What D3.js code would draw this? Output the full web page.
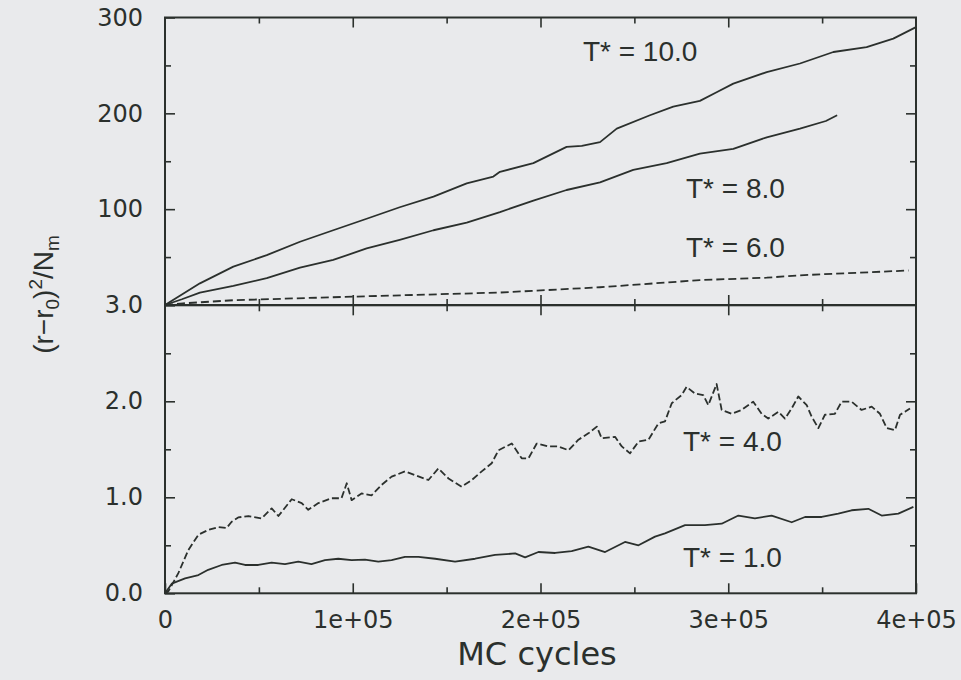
<!DOCTYPE html>
<html>
<head>
<meta charset="utf-8">
<script src="https://cdn.jsdelivr.net/npm/d3@7"></script>
<style>
  html, body { margin: 0; padding: 0; background: #e9eaec; }
  svg { display: block; }
</style>
</head>
<body>
<svg id="chart" width="961" height="680"></svg>
<script>
// ---- data ----
const xTicks = [0, 100000, 200000, 300000, 400000];
const xMinorTicks = [50000, 150000, 250000, 350000];
const topTicks = [100, 200, 300];
const topMinorTicks = [50, 150, 250];
const botTicks = [0, 1, 2, 3];
const botMinorTicks = [0.5, 1.5, 2.5];

const t10 = [[0,0],[9000,11],[18600,22.6],[36400,40],[54200,52],[71900,66],[89600,78],[107400,90],[125000,102],[143000,113],[160700,127],[174900,134],[178400,139],[196200,148],[213900,165],[222000,166],[231700,170],[240600,184],[258300,198],[270700,207],[284900,213],[293800,222],[302700,231],[320500,243],[338200,252],[356000,264],[373700,269],[387900,278],[400000,290]];
const t8 = [[0,0],[9000,6],[18600,13],[36400,20],[54200,28],[71900,39],[89600,47],[107400,59],[125000,68],[143000,78],[160700,86],[178400,97],[196200,109],[213900,120],[231700,128],[249400,141],[267200,148],[284900,158],[302700,163],[320500,175],[338200,184],[352000,192],[358000,198]];
const t6 = [[0,0],[9600,1.7],[36400,5],[100000,8.7],[178400,13],[231700,18.5],[284900,26],[320500,28.5],[338200,31],[396000,36]];
const t4 = [[0,0],[1800,0.02],[7100,0.21],[12400,0.45],[17800,0.61],[23000,0.66],[28400,0.69],[32800,0.68],[35500,0.745],[39000,0.79],[44400,0.805],[51500,0.78],[56800,0.885],[60400,0.805],[67500,0.98],[72800,0.94],[76300,0.87],[81700,0.94],[88800,0.99],[94000,0.99],[96800,1.146],[99400,0.97],[104700,1.04],[110000,1.02],[115400,1.13],[120700,1.215],[127800,1.27],[133200,1.23],[140300,1.18],[145600,1.30],[151000,1.196],[158000,1.11],[163400,1.18],[168700,1.27],[174000,1.354],[177600,1.49],[184700,1.56],[190000,1.406],[193600,1.406],[198000,1.56],[204200,1.53],[209500,1.53],[214900,1.49],[220200,1.60],[225500,1.666],[230000,1.736],[232600,1.614],[239700,1.63],[243300,1.53],[247700,1.458],[252200,1.58],[257500,1.60],[262800,1.77],[266300,1.79],[269900,1.98],[275200,2.065],[277800,2.15],[282300,2.08],[286700,2.065],[289400,1.96],[293800,2.18],[296500,1.91],[301800,1.87],[307100,1.91],[313300,1.996],[317800,1.87],[321300,1.82],[326700,1.89],[330200,1.82],[333800,1.926],[337300,2.05],[341800,1.96],[344400,1.84],[348000,1.72],[351500,1.86],[356800,1.87],[360400,1.996],[365700,1.996],[371000,1.91],[376400,1.944],[380800,1.87],[384400,1.72],[388800,1.70],[391500,1.86],[394100,1.89],[396800,1.926]];
const t1 = [[0,0],[3600,0.10],[10700,0.155],[17800,0.19],[23000,0.245],[30200,0.295],[37300,0.32],[42600,0.295],[49700,0.295],[56800,0.32],[63900,0.305],[71000,0.33],[78000,0.305],[85200,0.345],[92300,0.36],[99400,0.345],[106500,0.35],[113600,0.33],[120700,0.345],[127800,0.38],[135000,0.38],[143900,0.36],[154500,0.33],[165200,0.36],[175800,0.40],[186500,0.415],[191800,0.375],[198900,0.43],[207800,0.42],[216600,0.44],[225500,0.486],[234400,0.43],[245000,0.535],[252200,0.50],[261000,0.59],[266300,0.625],[277000,0.71],[287600,0.71],[296500,0.725],[305400,0.81],[314200,0.78],[323100,0.81],[333800,0.74],[340900,0.795],[349800,0.795],[358600,0.83],[365700,0.865],[374600,0.88],[381700,0.81],[390600,0.83],[398600,0.90]];

const topLabels = ["T* = 10.0", "T* = 8.0", "T* = 6.0"];
const topLabelAt = [[222600, 255], [277500, 111.5], [277500, 50]];
const botLabels = ["T* = 4.0", "T* = 1.0"];
const botLabelAt = [[275900, 1.48], [275900, 0.275]];

// ---- layout ----
const ink = "#2b302d";
const svg = d3.select("#chart");
const x = d3.scaleLinear().domain([0, 400000]).range([165, 916]);
const yTop = d3.scaleLinear().domain([0, 300]).range([305, 17.5]);
const yBot = d3.scaleLinear().domain([0, 3]).range([593.3, 305.3]);

const tickFont = "'DejaVu Sans', sans-serif";
const labFont = "'Liberation Sans', Arial, sans-serif";

function styleAxis(g) {
  g.select(".domain").remove();
  g.selectAll("line").attr("stroke", ink).attr("stroke-width", 1.6);
  g.selectAll("text").attr("fill", ink).attr("font-family", tickFont).attr("font-size", 24);
}
function addAxis(axis, tr) {
  svg.append("g").attr("transform", tr).call(axis).call(styleAxis);
}
const fmtX = d => d === 0 ? "0" : (d / 100000) + "e+05";

// bottom panel axes
addAxis(d3.axisBottom(x).tickValues(xTicks).tickSize(-10).tickPadding(18).tickFormat(fmtX), `translate(0,${yBot(0)})`);
addAxis(d3.axisBottom(x).tickValues(xMinorTicks).tickSize(-6).tickFormat(""), `translate(0,${yBot(0)})`);
addAxis(d3.axisTop(x).tickValues(xTicks.slice(1, -1)).tickSize(-10).tickFormat(""), `translate(0,${yBot(3)})`);
addAxis(d3.axisTop(x).tickValues(xMinorTicks).tickSize(-6).tickFormat(""), `translate(0,${yBot(3)})`);
addAxis(d3.axisLeft(yBot).tickValues(botTicks).tickSize(-10).tickPadding(22).tickFormat(d3.format(".1f")), `translate(${x(0)},0)`);
addAxis(d3.axisLeft(yBot).tickValues(botMinorTicks).tickSize(-6).tickFormat(""), `translate(${x(0)},0)`);
addAxis(d3.axisRight(yBot).tickValues(botTicks.slice(1, -1)).tickSize(-10).tickFormat(""), `translate(${x(400000)},0)`);
addAxis(d3.axisRight(yBot).tickValues(botMinorTicks).tickSize(-6).tickFormat(""), `translate(${x(400000)},0)`);

// top panel axes
addAxis(d3.axisBottom(x).tickValues(xTicks.slice(1, -1)).tickSize(-10).tickFormat(""), `translate(0,${yTop(0)})`);
addAxis(d3.axisBottom(x).tickValues(xMinorTicks).tickSize(-6).tickFormat(""), `translate(0,${yTop(0)})`);
addAxis(d3.axisTop(x).tickValues(xTicks.slice(1, -1)).tickSize(-10).tickFormat(""), `translate(0,${yTop(300)})`);
addAxis(d3.axisTop(x).tickValues(xMinorTicks).tickSize(-6).tickFormat(""), `translate(0,${yTop(300)})`);
addAxis(d3.axisLeft(yTop).tickValues(topTicks).tickSize(-10).tickPadding(22).tickFormat(d3.format("d")), `translate(${x(0)},0)`);
addAxis(d3.axisLeft(yTop).tickValues(topMinorTicks).tickSize(-6).tickFormat(""), `translate(${x(0)},0)`);
addAxis(d3.axisRight(yTop).tickValues(topTicks.slice(0, -1)).tickSize(-10).tickFormat(""), `translate(${x(400000)},0)`);
addAxis(d3.axisRight(yTop).tickValues(topMinorTicks).tickSize(-6).tickFormat(""), `translate(${x(400000)},0)`);

// frames
[[yTop, 300, 0], [yBot, 3, 0]].forEach(([ys, hi, lo]) => {
  svg.append("rect")
    .attr("x", x(0)).attr("y", ys(hi))
    .attr("width", x(400000) - x(0)).attr("height", ys(lo) - ys(hi))
    .attr("fill", "none").attr("stroke", ink).attr("stroke-width", 2);
});

// curves
function drawLine(data, ys, dash) {
  const line = d3.line().x(d => x(d[0])).y(d => ys(d[1]));
  svg.append("path").datum(data).attr("d", line)
    .attr("fill", "none").attr("stroke", ink).attr("stroke-width", 1.8)
    .attr("stroke-linejoin", "round")
    .attr("stroke-dasharray", dash || null);
}
drawLine(t10, yTop);
drawLine(t8, yTop);
drawLine(t6, yTop, "8,4");
drawLine(t4, yBot, "7,3");
drawLine(t1, yBot);

// annotations
topLabels.forEach((t, i) => {
  svg.append("text").attr("x", x(topLabelAt[i][0])).attr("y", yTop(topLabelAt[i][1]))
    .attr("font-family", labFont).attr("font-size", 28).attr("fill", ink).text(t);
});
botLabels.forEach((t, i) => {
  svg.append("text").attr("x", x(botLabelAt[i][0])).attr("y", yBot(botLabelAt[i][1]))
    .attr("font-family", labFont).attr("font-size", 28).attr("fill", ink).text(t);
});

// axis titles
svg.append("text").attr("x", 537).attr("y", 665).attr("text-anchor", "middle")
  .attr("font-family", tickFont).attr("font-size", 32).attr("fill", ink).text("MC cycles");

const yl = svg.append("text").attr("transform", "translate(53,294.5) rotate(-90)")
  .attr("text-anchor", "middle").attr("font-family", labFont).attr("font-size", 28).attr("fill", ink);
yl.append("tspan").text("(r\u2212r");
yl.append("tspan").attr("font-size", 19).attr("dy", 6).text("0");
yl.append("tspan").attr("dy", -6).text(")");
yl.append("tspan").attr("font-size", 19).attr("dy", -11).text("2");
yl.append("tspan").attr("dy", 11).text("/N");
yl.append("tspan").attr("font-size", 19).attr("dy", 6).text("m");
</script>
</body>
</html>
